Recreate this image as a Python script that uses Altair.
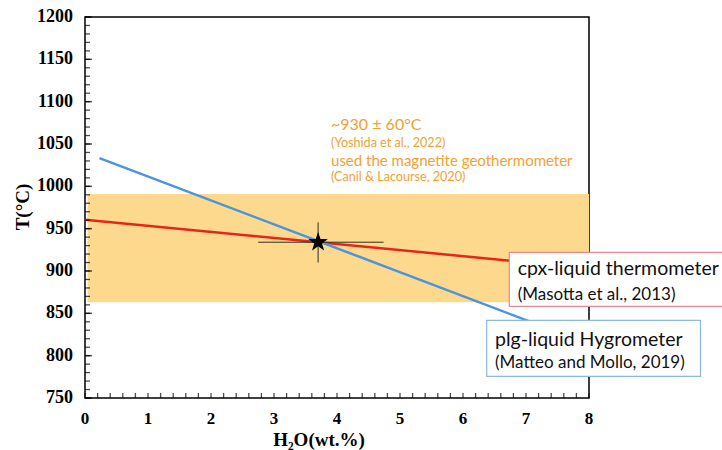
import math
import altair as alt
import pandas as pd

# ---- data ----
x_major = [0, 1, 2, 3, 4, 5, 6, 7, 8]
x_minor = [round(i * 0.2, 1) for i in range(41)]
y_major = [750, 800, 850, 900, 950, 1000, 1050, 1100, 1150, 1200]
y_minor = list(range(750, 1201, 10))

red_x = [0.0, 7.2]
red_y = [960.6, 908.9]
blue_x = [0.23, 7.2]
blue_y = [1033.4, 836.4]

star_x = [3.7]
star_y = [934]
err_x = [2.75, 4.74]
err_y = [910, 957.5]

band_x = [0.04, 8.0]
band_y = [863, 991]

x_title = "H\u2082O(wt.%)"
y_title = "T(\u00b0C)"

# annotation placements (data units)
cpx_box = dict(x=6.735, x2=10.3, y=922, y2=858.2)
plg_box = dict(x=6.376, x2=9.77, y=841.7, y2=775.6)

orange_lines = ["~930 \u00b1 60\u00b0C", "(Yoshida et al., 2022)",
                "used the magnetite geothermometer", "(Canil & Lacourse, 2020)"]
orange_y = [1066.8, 1045.9, 1023.5, 1005.8]
orange_size = [16, 12.6, 15, 12.6]

SERIF = "Liberation Serif"
SANS = "Lato"
ORANGE = "#F0A235"

# five-pointed star symbol path (unit coordinates)
pts = []
for k in range(10):
    r = 1.0 if k % 2 == 0 else 0.4
    a = math.radians(-90 + 36 * k)
    pts.append(f"{r * math.cos(a):.3f},{r * math.sin(a):.3f}")
STAR_PATH = "M" + "L".join(pts) + "Z"

W, H = 504, 381

xscale = alt.Scale(domain=[0, 8], nice=False, zero=False)
yscale = alt.Scale(domain=[750, 1200], nice=False, zero=False)


def X(f="x"):
    return alt.X(f"{f}:Q", scale=xscale, axis=None)


def Y(f="y"):
    return alt.Y(f"{f}:Q", scale=yscale, axis=None)


band = alt.Chart(pd.DataFrame({"x": [band_x[0]], "x2": [band_x[1]], "y": [band_y[0]], "y2": [band_y[1]]})).mark_rect(
    color="#FCD98C").encode(x=X(), x2="x2:Q", y=Y(), y2="y2:Q")

# inward ticks
ymaj = alt.Chart(pd.DataFrame({"tv": y_major})).transform_calculate(tx="0.055").mark_tick(
    color="black", orient="horizontal", size=7, thickness=1.5).encode(y=Y("tv"), x=X("tx"))
ymin = alt.Chart(pd.DataFrame({"tv": y_minor})).transform_calculate(tx="0.04").mark_tick(
    color="black", orient="horizontal", size=5, thickness=1.3).encode(y=Y("tv"), x=X("tx"))
xmin = alt.Chart(pd.DataFrame({"tv": x_minor})).transform_calculate(ty="753").mark_tick(
    color="black", orient="vertical", size=5, thickness=1.3).encode(x=X("tv"), y=Y("ty"))

# tick labels and axis titles
ylab = alt.Chart(pd.DataFrame({"v": y_major})).mark_text(
    align="right", baseline="middle", font=SERIF, fontWeight="bold", fontSize=18, color="black").encode(
    y=Y("v"), x=alt.value(-12), text=alt.Text("v:Q", format="d"))
xlab = alt.Chart(pd.DataFrame({"v": x_major})).mark_text(
    align="center", baseline="top", font=SERIF, fontWeight="bold", fontSize=17, color="black").encode(
    x=X("v"), y=alt.value(H + 13), text=alt.Text("v:Q", format="d"))
xtit = alt.Chart(pd.DataFrame({"t": [x_title]})).mark_text(
    align="center", baseline="alphabetic", font=SERIF, fontWeight="bold", fontSize=19, color="black").encode(
    x=alt.value(234), y=alt.value(H + 48), text="t:N")
ytit = alt.Chart(pd.DataFrame({"t": [y_title]})).mark_text(
    align="center", baseline="bottom", angle=270, font=SERIF, fontWeight="bold", fontSize=19, color="black").encode(
    x=alt.value(-52), y=alt.value(190), text="t:N")

red = alt.Chart(pd.DataFrame({"x": red_x, "y": red_y})).mark_line(color="#E8251B", strokeWidth=2.5).encode(
    x=X(), y=Y())
blue = alt.Chart(pd.DataFrame({"x": blue_x, "y": blue_y})).mark_line(color="#4A94E0", strokeWidth=2.5).encode(
    x=X(), y=Y())

errh = alt.Chart(pd.DataFrame({"x": [err_x[0]], "x2": [err_x[1]], "y": star_y})).mark_rule(
    color="#2f2f22", strokeWidth=1).encode(x=X(), x2="x2:Q", y=Y())
errv = alt.Chart(pd.DataFrame({"x": star_x, "y": [err_y[0]], "y2": [err_y[1]]})).mark_rule(
    color="#2f2f22", strokeWidth=1).encode(x=X(), y=Y(), y2="y2:Q")
star = alt.Chart(pd.DataFrame({"x": star_x, "y": star_y})).mark_point(
    shape=STAR_PATH, filled=True, color="black", opacity=1, size=420).encode(x=X(), y=Y())

orange_df = pd.DataFrame({"x": [3.905] * 4, "y": orange_y, "t": orange_lines, "s": orange_size})
orange = alt.Chart(orange_df).mark_text(align="left", baseline="alphabetic", font=SANS, color=ORANGE).encode(
    x=X(), y=Y(), text="t:N", size=alt.Size("s:Q", scale=None, legend=None))

cpx = alt.Chart(pd.DataFrame([cpx_box])).mark_rect(fill="white", stroke="#E58A93", strokeWidth=1.2).encode(
    x=X(), x2="x2:Q", y=Y(), y2="y2:Q")
plg = alt.Chart(pd.DataFrame([plg_box])).mark_rect(fill="white", stroke="#8DB8E0", strokeWidth=1.2).encode(
    x=X(), x2="x2:Q", y=Y(), y2="y2:Q")

box_text_df = pd.DataFrame({
    "x": [6.868, 6.868, 6.508, 6.508],
    "y": [895.6, 866.1, 811.8, 785.8],
    "t": ["cpx-liquid thermometer", "(Masotta et al., 2013)", "plg-liquid Hygrometer", "(Matteo and Mollo, 2019)"],
    "s": [19.5, 17, 19.5, 17],
})
box_text = alt.Chart(box_text_df).mark_text(align="left", baseline="alphabetic", font=SANS, color="#111111").encode(
    x=X(), y=Y(), text="t:N", size=alt.Size("s:Q", scale=None, legend=None))

chart = alt.layer(band, red, blue, errh, errv, star, orange, cpx, plg, box_text,
                  ymin, ymaj, xmin, ylab, xlab, xtit, ytit).properties(
    width=W, height=H,
    autosize=alt.AutoSizeParams(type="none"),
    padding={"left": 85, "top": 17, "right": 133, "bottom": 52},
    background="white",
).configure_view(stroke="black", strokeWidth=1.5)

chart.save("out.html", embed_options={"renderer": "svg", "actions": False})
